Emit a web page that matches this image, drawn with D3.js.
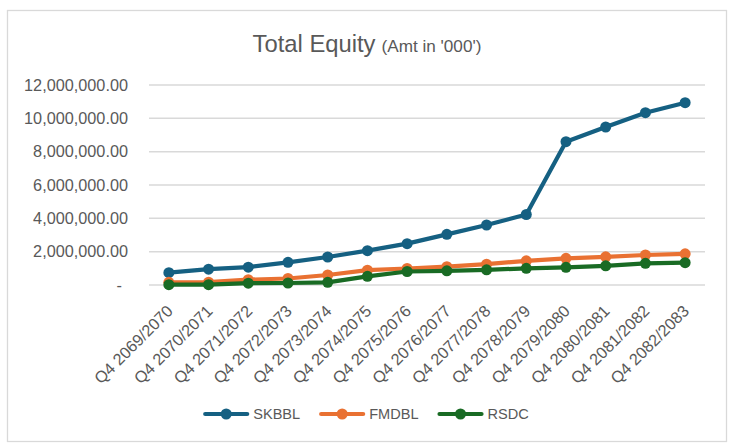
<!DOCTYPE html>
<html>
<head>
<meta charset="utf-8">
<script src="https://cdn.jsdelivr.net/npm/d3@7"></script>
<style>
  body { margin: 0; background: #ffffff; }
  text { font-family: "Liberation Sans", Arial, sans-serif; fill: #595959; }
</style>
</head>
<body>
<script>
// data
var categories = ["Q4 2069/2070", "Q4 2070/2071", "Q4 2071/2072", "Q4 2072/2073",
                  "Q4 2073/2074", "Q4 2074/2075", "Q4 2075/2076", "Q4 2076/2077",
                  "Q4 2077/2078", "Q4 2078/2079", "Q4 2079/2080", "Q4 2080/2081",
                  "Q4 2081/2082", "Q4 2082/2083"];
var skbbl = [740000, 950000, 1070000, 1360000, 1680000, 2060000, 2480000, 3040000,
             3600000, 4230000, 8600000, 9480000, 10340000, 10940000];
var fmdbl = [160000, 170000, 320000, 390000, 600000, 890000, 990000, 1100000,
             1250000, 1450000, 1600000, 1690000, 1800000, 1870000];
var rsdc = [20000, 20000, 110000, 120000, 160000, 520000, 810000, 850000,
            910000, 1000000, 1060000, 1150000, 1300000, 1340000];
var y_ticks = [0, 2000000, 4000000, 6000000, 8000000, 10000000, 12000000];

var series = [
  {name: "SKBBL", values: skbbl, color: "#156082"},
  {name: "FMDBL", values: fmdbl, color: "#E97132"},
  {name: "RSDC", values: rsdc, color: "#196B24"}
];

var w = 741, h = 448;
var plot_left = 149, plot_right = 705;
var plot_top = 85, plot_bottom = 285;
var line_width = 4.2;
var marker_r = 5.5;
var font_family = '"Liberation Sans", Arial, sans-serif';

var svg = d3.select("body").append("svg")
    .attr("width", w)
    .attr("height", h);

// font size that makes a sample string a given width (widths)
var fit_size = function(sample, target_width){
  var t = svg.append("text")
      .style("font-family", font_family)
      .attr("font-size", 100)
      .text(sample);
  var len = t.node().getComputedTextLength();
  t.remove();
  return 100 * target_width / len;
}

var label_size = fit_size("12,000,000.00", 104);
var title_size = fit_size("Total Equity", 123);
var sub_size = fit_size("(Amt in '000')", 100);
var legend_size = fit_size("SKBBL", 47);

// chart frame
svg.append("rect")
    .attr("x", 7.5).attr("y", 10.5)
    .attr("width", 719).attr("height", 431)
    .attr("fill", "#ffffff")
    .attr("stroke", "#D9D9D9")
    .attr("stroke-width", 1.3);

// title
var title = svg.append("text")
    .attr("x", 367).attr("y", 52)
    .attr("text-anchor", "middle");
title.append("tspan").attr("font-size", title_size).text("Total Equity");
title.append("tspan").attr("font-size", sub_size).attr("dx", 6).text("(Amt in '000')");

var x = d3.scaleBand()
    .domain(categories)
    .range([plot_left, plot_right]);

var y = d3.scaleLinear()
    .domain([0, 12000000])
    .range([plot_bottom, plot_top]);

var fmt = d3.format(",.2f");

// gridlines
svg.append("g")
    .selectAll("line")
    .data(y_ticks)
    .join("line")
    .attr("x1", plot_left).attr("x2", plot_right)
    .attr("y1", function(d){ return y(d); })
    .attr("y2", function(d){ return y(d); })
    .attr("stroke", "#D9D9D9")
    .attr("stroke-width", 1.5);

// y axis labels
var y_axis = d3.axisLeft(y)
    .tickValues(y_ticks)
    .tickSize(0)
    .tickPadding(0)
    .tickFormat(function(d){ return d === 0 ? "-" : fmt(d); });

var y_g = svg.append("g")
    .attr("transform", "translate(128,0)")
    .call(y_axis);
y_g.select(".domain").remove();
y_g.selectAll("text")
    .attr("font-size", label_size)
    .attr("fill", "#595959")
    .style("font-family", font_family)
    .attr("dx", function(d){ return d === 0 ? -6 : 0; });

// x axis labels, rotated
var x_axis = d3.axisBottom(x).tickSize(0).tickPadding(0);
var x_g = svg.append("g")
    .attr("transform", "translate(0," + plot_bottom + ")")
    .call(x_axis);
x_g.select(".domain").remove();
x_g.selectAll("text")
    .attr("font-size", label_size)
    .attr("fill", "#595959")
    .style("font-family", font_family)
    .attr("text-anchor", "end")
    .attr("dy", null)
    .attr("y", 0)
    .attr("transform", "translate(5,27) rotate(-45)");

// lines and markers
var line = d3.line()
    .x(function(d, i){ return x(categories[i]) + x.bandwidth()/2; })
    .y(function(d){ return y(d); });

series.forEach(function(s){
  var g = svg.append("g");
  g.append("path")
      .datum(s.values)
      .attr("d", line)
      .attr("fill", "none")
      .attr("stroke", s.color)
      .attr("stroke-width", line_width)
      .attr("stroke-linejoin", "round")
      .attr("stroke-linecap", "round");
  g.selectAll("circle")
      .data(s.values)
      .join("circle")
      .attr("cx", function(d, i){ return x(categories[i]) + x.bandwidth()/2; })
      .attr("cy", function(d){ return y(d); })
      .attr("r", marker_r)
      .attr("fill", s.color);
});

// legend
var legend_y = 414;
var leg = svg.append("g");
var cursor = 0;
series.forEach(function(s){
  var item = leg.append("g").attr("transform", "translate(" + cursor + ",0)");
  item.append("line")
      .attr("x1", 0).attr("x2", 42)
      .attr("y1", legend_y).attr("y2", legend_y)
      .attr("stroke", s.color)
      .attr("stroke-width", line_width)
      .attr("stroke-linecap", "round");
  item.append("circle")
      .attr("cx", 21).attr("cy", legend_y)
      .attr("r", marker_r)
      .attr("fill", s.color);
  var t = item.append("text")
      .attr("x", 48).attr("y", legend_y)
      .attr("dy", "0.35em")
      .attr("font-size", legend_size)
      .text(s.name);
  cursor += 48 + t.node().getComputedTextLength() + 21;
});
var leg_width = cursor - 21;
leg.attr("transform", "translate(" + (367 - leg_width/2) + ",0)");
</script>
</body>
</html>
